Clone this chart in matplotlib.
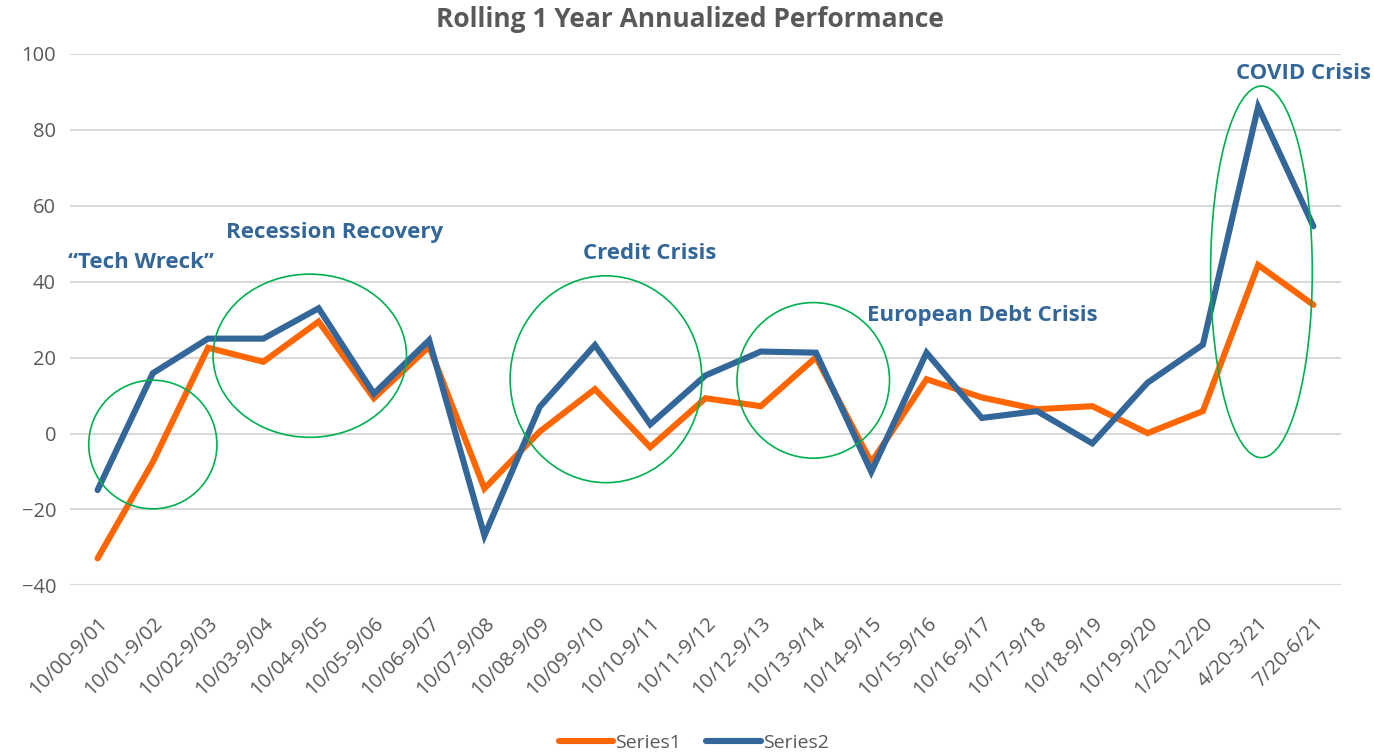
import matplotlib as mpl
mpl.use('Agg')
import matplotlib.pyplot as plt
from matplotlib.patches import Ellipse

plt.rcParams['font.family'] = ['Open Sans', 'DejaVu Sans']

periods = ['10/00-9/01', '10/01-9/02', '10/02-9/03', '10/03-9/04', '10/04-9/05',
           '10/05-9/06', '10/06-9/07', '10/07-9/08', '10/08-9/09', '10/09-9/10',
           '10/10-9/11', '10/11-9/12', '10/12-9/13', '10/13-9/14', '10/14-9/15',
           '10/15-9/16', '10/16-9/17', '10/17-9/18', '10/18-9/19', '10/19-9/20',
           '1/20-12/20', '4/20-3/21', '7/20-6/21']
series1 = [-32.9, -7.5, 22.6, 18.9, 29.5, 9.3, 22.9, -14.5, 0.5, 11.7, -3.6, 9.3,
           7.2, 20.1, -7.6, 14.3, 9.5, 6.4, 7.2, 0.1, 5.9, 44.4, 33.9]
series2 = [-14.9, 15.9, 25.0, 25.0, 33.0, 10.5, 24.6, -26.9, 7.0, 23.3, 2.4, 15.3,
           21.6, 21.3, -10.1, 21.3, 4.1, 5.9, -2.6, 13.4, 23.4, 86.1, 54.6]

# callouts: text, x of left edge, baseline y
labels = ['\u201cTech Wreck\u201d', 'Recession Recovery', 'Credit Crisis',
          'European Debt Crisis', 'COVID Crisis']
label_x = [-0.53, 2.33, 8.79, 13.93, 20.60]
label_y = [43.5, 51.4, 45.9, 29.6, 93.4]

# circled regions: centre x, centre y, width, height (data units)
circles = [(1.0, -2.9, 2.32, 33.9),
           (3.84, 20.5, 3.50, 43.0),
           (9.20, 14.3, 3.47, 54.5),
           (12.95, 14.0, 2.76, 41.0),
           (21.06, 42.6, 1.84, 97.9)]

orange = '#FF6600'
blue = '#336699'
grey = '#595959'

fig = plt.figure(figsize=(13.74, 7.54), dpi=100)
ax = fig.add_axes([0.0509, 0.2237, 0.9251, 0.7047])

x = list(range(len(periods)))
ax.plot(x, series1, color=orange, lw=4.4, label='Series1', solid_capstyle='round',
        solid_joinstyle='miter', zorder=3)
ax.plot(x, series2, color=blue, lw=4.4, label='Series2', solid_capstyle='round',
        solid_joinstyle='miter', zorder=4)

for cx, cy, w, h in circles:
    ax.add_patch(Ellipse((cx, cy), w, h, fill=False, ec='#00B050', lw=1.2, zorder=5))

for t, lx, ly in zip(labels, label_x, label_y):
    ax.text(lx, ly, t, color=blue, fontsize=16, fontweight='bold',
            ha='left', va='baseline', clip_on=False, zorder=6)

ax.set_xlim(-0.5, len(periods) - 0.5)
ax.set_ylim(-40, 100)
ax.set_yticks(range(-40, 101, 20))
ax.set_xticks(x)
ax.set_xticklabels(periods, rotation=45, ha='right', va='top', rotation_mode='anchor')
ax.tick_params(axis='both', length=0, colors=grey, labelsize=14.5)
ax.tick_params(axis='x', pad=20)
ax.tick_params(axis='y', pad=10)
ax.grid(axis='y', color='#D9D9D9', lw=1.5)
ax.set_axisbelow(True)
for s in ax.spines.values():
    s.set_visible(False)

fig.text(0.502, 0.974, 'Rolling 1 Year Annualized Performance', ha='center', va='center',
         fontsize=19, fontweight='bold', color=grey)

leg = fig.legend(loc='center', bbox_to_anchor=(0.505, 1 - 743 / 754), ncol=2, frameon=False,
                 fontsize=14, handlelength=2.8, handletextpad=0.1, columnspacing=1.3)
for t in leg.get_texts():
    t.set_color(grey)

plt.savefig('out.png', dpi=100)
